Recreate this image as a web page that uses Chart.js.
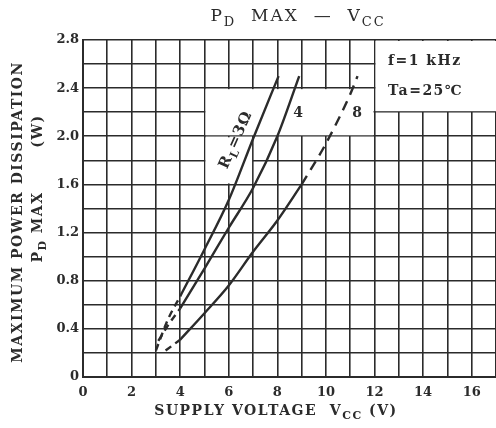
<!DOCTYPE html>
<html>
<head>
<meta charset="utf-8">
<script src="https://cdn.jsdelivr.net/npm/chart.js@4/dist/chart.umd.min.js"></script>
<style>
  body { margin: 0; background: #fff; }
</style>
</head>
<body>
<canvas id="myChart" width="496" height="428"></canvas>
<script>
// values: supply voltage (V) vs max dissipation (W)
const rl3Vcc = [4, 5, 6, 7, 8.05];
const rl3Pd = [0.67, 1.06, 1.47, 1.98, 2.5];
const rl3LowVcc = [3.0, 3.5, 4];
const rl3LowPd = [0.22, 0.48, 0.67];

const rl4Vcc = [4, 5, 6, 7, 8, 8.9];
const rl4Pd = [0.57, 0.9, 1.24, 1.57, 2.0, 2.5];
const rl4LowVcc = [3.1, 3.5, 4];
const rl4LowPd = [0.3, 0.43, 0.57];

const rl8Vcc = [4, 5, 6, 7, 8, 9];
const rl8Pd = [0.31, 0.53, 0.76, 1.04, 1.3, 1.6];
const rl8LowVcc = [3.4, 4];
const rl8LowPd = [0.22, 0.31];
const rl8HighVcc = [9, 10, 11, 11.3];
const rl8HighPd = [1.6, 1.94, 2.35, 2.5];

const xTickLabels = ['0', '2', '4', '6', '8', '10', '12', '14', '16'];
const yTickLabels = ['0', '0.4', '0.8', '1.2', '1.6', '2.0', '2.4', '2.8'];

const INK = '#2b2b2b';
const SERIF = '"DejaVu Serif", serif';

function toPoints(xs, ys) {
  return xs.map((v, i) => ({ x: v, y: ys[i] }));
}

function curve(xs, ys, dash) {
  return {
    data: toPoints(xs, ys),
    showLine: true,
    borderColor: INK,
    borderWidth: 2.4,
    borderDash: dash || [],
    pointRadius: 0,
    cubicInterpolationMode: 'monotone',
    fill: false
  };
}

// draws text with subscripts: parts = [[text, isSub], ...]
function drawRich(ctx, parts, x, y, size, bold, align) {
  const weight = bold ? 'bold ' : '';
  let widths = [];
  let total = 0;
  parts.forEach(p => {
    ctx.font = weight + (p[1] ? Math.round(size * 0.75) : size) + 'px ' + SERIF;
    let w = ctx.measureText(p[0]).width;
    widths.push(w);
    total += w;
  });
  let cx = align === 'center' ? x - total / 2 : x;
  ctx.textAlign = 'left';
  ctx.textBaseline = 'middle';
  parts.forEach((p, i) => {
    ctx.font = weight + (p[1] ? Math.round(size * 0.75) : size) + 'px ' + SERIF;
    ctx.fillText(p[0], cx, p[1] ? y + size * 0.35 : y);
    cx += widths[i];
  });
}

const decor = {
  id: 'decor',
  beforeDatasetsDraw(chart) {
    const ctx = chart.ctx;
    const xs = chart.scales.x, ys = chart.scales.y;
    const area = chart.chartArea;
    ctx.save();
    ctx.fillStyle = '#fff';
    // white patches behind the labels, as on the scan
    function blank(x0, x1, y0, y1) {
      let l = xs.getPixelForValue(x0) + 1, r = xs.getPixelForValue(x1) - 1;
      let t = ys.getPixelForValue(y1) + 1, b = ys.getPixelForValue(y0) - 1;
      ctx.fillRect(l, t, r - l, b - t);
    }
    blank(5, 12, 2.0, 2.4);
    blank(5, 7, 1.6, 2.0);
    // the key box in the top right corner
    let kl = xs.getPixelForValue(12) + 1;
    let kb = ys.getPixelForValue(2.2) - 1;
    ctx.fillRect(kl, area.top + 1, area.right - kl + 2, kb - area.top - 1);
    ctx.restore();
  },
  afterDraw(chart) {
    const ctx = chart.ctx;
    ctx.save();
    ctx.fillStyle = INK;

    // title
    ctx.letterSpacing = '2px';
    drawRich(ctx, [['P', false], ['D', true], ['  MAX  \u2014  V', false], ['CC', true]], 298, 17, 17, false, 'center');

    // x axis title
    ctx.letterSpacing = '1.5px';
    drawRich(ctx, [['SUPPLY VOLTAGE  V', false], ['CC', true], [' (V)', false]], 276, 411, 14, true, 'center');

    // y axis title, two lines
    ctx.translate(18, 212);
    ctx.rotate(-Math.PI / 2);
    drawRich(ctx, [['MAXIMUM POWER DISSIPATION', false]], 0, 0, 14, true, 'center');
    ctx.setTransform(1, 0, 0, 1, 0, 0);
    ctx.translate(38, 200);
    ctx.rotate(-Math.PI / 2);
    drawRich(ctx, [['P', false], ['D', true], [' MAX', false]], -27, 0, 14, true, 'center');
    drawRich(ctx, [['(W)', false]], 69, 0, 14, true, 'center');
    ctx.setTransform(1, 0, 0, 1, 0, 0);

    // key text
    drawRich(ctx, [['f=1 kHz', false]], 388, 61, 14, true, 'left');
    drawRich(ctx, [['Ta=25\u2103', false]], 388, 91, 14, true, 'left');
    ctx.letterSpacing = '0px';

    // curve labels
    ctx.translate(236, 140);
    ctx.rotate(-66 * Math.PI / 180);
    ctx.letterSpacing = '1px';
    drawRich(ctx, [['R', false], ['L', true], ['=3\u03a9', false]], 0, 0, 15, true, 'center');
    ctx.setTransform(1, 0, 0, 1, 0, 0);
    ctx.letterSpacing = '0px';
    drawRich(ctx, [['4', false]], 298, 113, 14, true, 'center');
    drawRich(ctx, [['8', false]], 357, 113, 14, true, 'center');
    ctx.restore();
  }
};

const config = {
  type: 'scatter',
  data: {
    datasets: [
      curve(rl3Vcc, rl3Pd),
      curve(rl3LowVcc, rl3LowPd, [7, 5]),
      curve(rl4Vcc, rl4Pd),
      curve(rl4LowVcc, rl4LowPd, [7, 5]),
      curve(rl8Vcc, rl8Pd),
      curve(rl8LowVcc, rl8LowPd, [7, 5]),
      curve(rl8HighVcc, rl8HighPd, [10, 7])
    ]
  },
  options: {
    responsive: false,
    animation: false,
    layout: { padding: { left: 0, top: 40, right: 0, bottom: 0 } },
    plugins: {
      legend: { display: false },
      tooltip: { enabled: false },
      title: { display: false }
    },
    scales: {
      x: {
        type: 'linear',
        min: 0,
        max: 17,
        afterFit(scale) {
          scale.height = 51;
          scale.paddingLeft = 0;
          scale.paddingRight = 0;
        },
        border: { color: INK, width: 2 },
        grid: { color: INK, lineWidth: 1.6, drawTicks: false },
        ticks: {
          stepSize: 1,
          autoSkip: false,
          maxRotation: 0,
          padding: 8,
          color: INK,
          font: { family: SERIF, size: 13, weight: 'bold' },
          callback: v => xTickLabels.includes(String(v)) ? String(v) : ''
        }
      },
      y: {
        min: 0,
        max: 2.8,
        afterFit(scale) { scale.width = 83; },
        border: { color: INK, width: 2 },
        grid: { color: INK, lineWidth: 1.6, drawTicks: false },
        ticks: {
          stepSize: 0.2,
          autoSkip: false,
          padding: 4,
          color: INK,
          font: { family: SERIF, size: 13, weight: 'bold' },
          callback: v => {
            let lbl = yTickLabels.find(t => Math.abs(parseFloat(t) - v) < 1e-6);
            return lbl || '';
          }
        }
      }
    }
  },
  plugins: [decor]
};

const myChart = new Chart(document.getElementById('myChart'), config);
</script>
</body>
</html>
